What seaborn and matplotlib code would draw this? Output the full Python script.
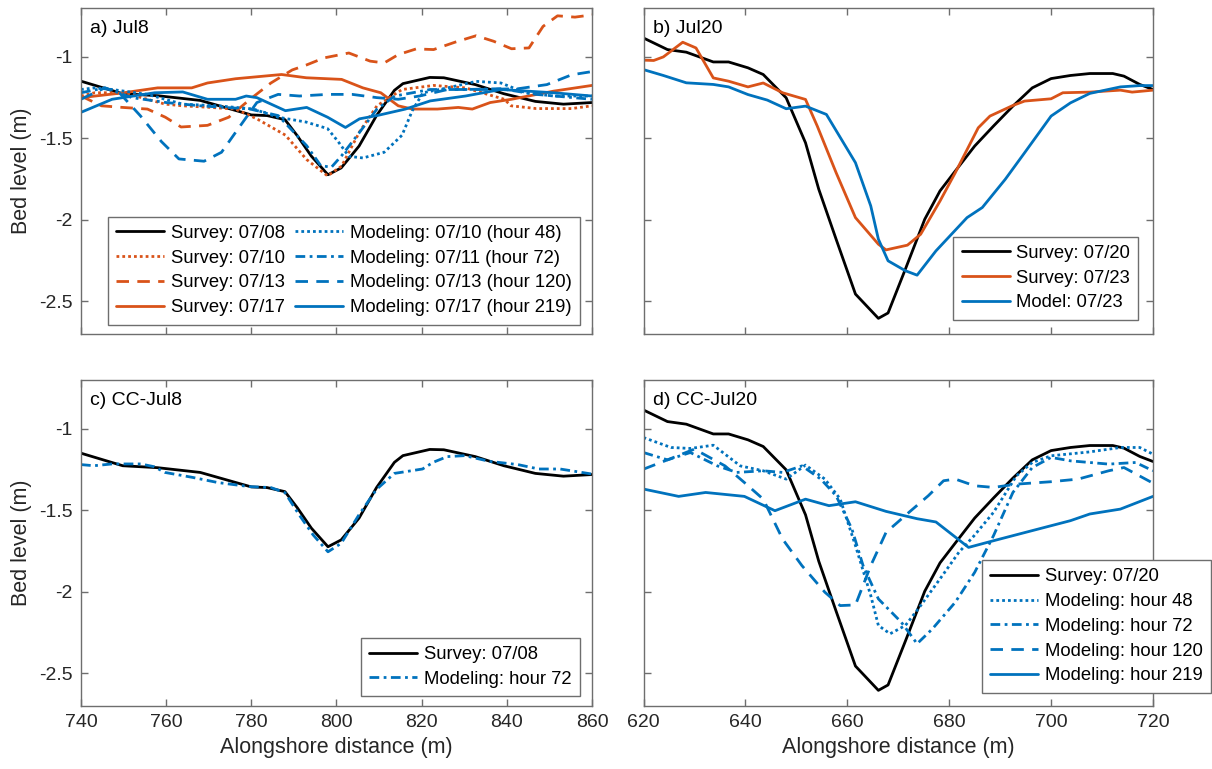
import numpy as np
import pandas as pd
import matplotlib
matplotlib.use("Agg")
import matplotlib.pyplot as plt
import seaborn as sns

# ---------------- data ----------------
# Panel a / c : Jul8 (x 740-860)
s0708_x = [740, 749.8, 758, 768, 773.8, 780, 783.7, 787.9, 790.8, 794.1, 798, 801.1, 805.3, 809.4, 813.6, 815.6, 821.9, 825.2, 832.6, 839.3, 846.7, 853.3, 860]
s0708_y = [-1.149, -1.226, -1.238, -1.267, -1.31, -1.356, -1.36, -1.385, -1.484, -1.609, -1.723, -1.681, -1.547, -1.36, -1.205, -1.164, -1.126, -1.128, -1.17, -1.226, -1.273, -1.29, -1.28]

s0710_x = [740, 743.2, 747, 751.5, 755.6, 759.8, 763.9, 770.5, 776.3, 781.3, 788, 793, 797.9, 801.2, 805.4, 809.5, 815.4, 822.8, 830.3, 839.4, 841, 846.9, 855.2, 860]
s0710_y = [-1.24, -1.22, -1.22, -1.23, -1.26, -1.29, -1.30, -1.31, -1.32, -1.38, -1.48, -1.63, -1.73, -1.67, -1.46, -1.30, -1.20, -1.175, -1.19, -1.26, -1.30, -1.317, -1.317, -1.30]

s0713_x = [740, 744.8, 749.8, 755.6, 759.8, 763.5, 769.7, 774.7, 779.7, 784.6, 789.6, 792.9, 797.1, 802.9, 807.9, 811.2, 814.5, 818.7, 822.8, 827.8, 832.8, 836.9, 841.1, 845.2, 848.5, 851.9, 856, 860]
s0713_y = [-1.24, -1.30, -1.31, -1.32, -1.37, -1.43, -1.42, -1.37, -1.26, -1.16, -1.08, -1.05, -1.006, -0.976, -1.026, -1.037, -0.986, -0.951, -0.955, -0.91, -0.87, -0.904, -0.95, -0.945, -0.813, -0.748, -0.756, -0.742]

s0717_x = [740, 750, 758, 766, 769.7, 776.3, 787.1, 792.9, 801.2, 806.2, 810.4, 814.5, 817.8, 823.7, 828.6, 831.9, 836.1, 841.1, 851, 860]
s0717_y = [-1.25, -1.22, -1.19, -1.19, -1.16, -1.134, -1.108, -1.128, -1.138, -1.19, -1.22, -1.30, -1.32, -1.32, -1.31, -1.32, -1.28, -1.26, -1.21, -1.175]

m48_x = [740, 743.2, 747.3, 755.6, 763.9, 772.2, 780.5, 786.3, 792.9, 797.9, 800.4, 802.9, 806.2, 811.2, 815.4, 817.8, 820.3, 826.1, 832.8, 838.6, 844.4, 851, 860]
m48_y = [-1.20, -1.19, -1.20, -1.23, -1.29, -1.30, -1.32, -1.37, -1.40, -1.44, -1.52, -1.61, -1.62, -1.585, -1.48, -1.33, -1.22, -1.19, -1.15, -1.16, -1.22, -1.24, -1.24]

m72_x = [740, 745.6, 752, 760, 768, 779.7, 786.3, 793, 796.3, 798.8, 801.2, 805.4, 809.5, 813.7, 822, 830.3, 838.6, 846.9, 860]
m72_y = [-1.22, -1.19, -1.25, -1.28, -1.30, -1.32, -1.36, -1.545, -1.667, -1.677, -1.606, -1.463, -1.32, -1.24, -1.20, -1.20, -1.195, -1.23, -1.26]

m120_x = [740, 745.6, 749, 753.9, 758.9, 763, 768.9, 773, 776.3, 781.3, 786.3, 791.3, 797.9, 803.7, 809.5, 814.5, 819.5, 826.1, 834.4, 842.7, 849.4, 855.2, 860]
m120_y = [-1.26, -1.19, -1.22, -1.36, -1.52, -1.626, -1.64, -1.585, -1.463, -1.28, -1.23, -1.24, -1.23, -1.23, -1.25, -1.26, -1.24, -1.20, -1.20, -1.195, -1.17, -1.11, -1.09]

m219_x = [740, 747.3, 757.3, 763.9, 769.7, 776.3, 778.8, 781.3, 788, 793, 797.9, 802.1, 805.4, 809.5, 816.2, 822, 830.3, 838.6, 851, 860]
m219_y = [-1.34, -1.26, -1.22, -1.215, -1.26, -1.26, -1.24, -1.25, -1.33, -1.31, -1.37, -1.433, -1.38, -1.36, -1.32, -1.27, -1.24, -1.20, -1.22, -1.24]

cc72_x = [740, 743, 747.3, 754, 757.2, 759.7, 766.3, 772.1, 779.5, 784.6, 787.9, 791.2, 794.5, 798, 801.1, 805.3, 809.4, 813.6, 820.2, 822.7, 826, 830.1, 835.9, 842.6, 847.5, 852.5, 860]
cc72_y = [-1.219, -1.226, -1.215, -1.215, -1.232, -1.267, -1.298, -1.329, -1.354, -1.36, -1.391, -1.526, -1.65, -1.754, -1.702, -1.526, -1.371, -1.273, -1.246, -1.205, -1.17, -1.164, -1.199, -1.219, -1.246, -1.246, -1.277]

# Panel b / d : Jul20 (x 620-720)
s0720_x = [620, 624.7, 628.4, 633.7, 636.7, 640.5, 643.5, 648, 651.8, 654.4, 657.8, 661.6, 666.1, 668, 671.4, 675.2, 678.2, 681.2, 685, 688.7, 692.5, 696.3, 700, 703.8, 707.6, 712.1, 714.3, 717.4, 720]
s0720_y = [-0.884, -0.955, -0.971, -1.031, -1.031, -1.067, -1.108, -1.251, -1.527, -1.812, -2.118, -2.455, -2.604, -2.571, -2.302, -1.996, -1.822, -1.70, -1.547, -1.424, -1.302, -1.19, -1.133, -1.114, -1.102, -1.102, -1.118, -1.169, -1.2]

s0723_x = [620, 622, 623.9, 627.7, 630.3, 633.7, 636.7, 640.5, 643.5, 647.3, 651.8, 654.1, 657.8, 661.6, 666.1, 667.6, 671.8, 674.4, 678.2, 681.2, 685.7, 688, 692.5, 694.8, 700, 702.3, 707.6, 713.6, 715.9, 720]
s0723_y = [-1.02, -1.022, -1.0, -0.91, -0.945, -1.129, -1.149, -1.184, -1.16, -1.22, -1.261, -1.424, -1.71, -1.986, -2.149, -2.184, -2.155, -2.088, -1.884, -1.71, -1.435, -1.363, -1.298, -1.271, -1.257, -1.22, -1.216, -1.204, -1.216, -1.204]

mod0723_x = [620, 623.9, 628.4, 633.7, 636.7, 640.5, 644.3, 648, 651.8, 655.9, 661.6, 664.6, 666.1, 668, 671.4, 673.7, 677.4, 683.5, 686.5, 691, 694.8, 700, 703.8, 707.6, 713.6, 717.4, 720]
mod0723_y = [-1.078, -1.114, -1.159, -1.169, -1.184, -1.231, -1.265, -1.318, -1.302, -1.353, -1.649, -1.914, -2.118, -2.251, -2.312, -2.339, -2.19, -1.986, -1.924, -1.751, -1.588, -1.363, -1.282, -1.224, -1.184, -1.176, -1.176]

d48_x = [620, 625.4, 629.2, 633.7, 639, 643.5, 648, 651.8, 655.6, 658.6, 661.6, 664.6, 666.1, 668.4, 671.4, 674.4, 678.2, 681.9, 684.9, 688.7, 693.2, 696.3, 700, 707.6, 713.6, 717.4, 720]
d48_y = [-1.053, -1.114, -1.12, -1.10, -1.227, -1.257, -1.308, -1.222, -1.308, -1.43, -1.716, -2.022, -2.206, -2.257, -2.206, -2.084, -1.92, -1.757, -1.655, -1.512, -1.288, -1.206, -1.165, -1.141, -1.114, -1.114, -1.155]

d72_x = [620, 624.7, 629.2, 634.5, 638.3, 643.5, 647.3, 651.1, 654.8, 657.8, 660.9, 663.1, 666.1, 670.6, 673.7, 676.7, 681.2, 685, 688.7, 692.5, 696.3, 700, 703.8, 711.3, 716.6, 720]
d72_y = [-1.145, -1.19, -1.145, -1.227, -1.267, -1.257, -1.267, -1.227, -1.308, -1.41, -1.614, -1.839, -2.043, -2.186, -2.318, -2.227, -2.063, -1.88, -1.655, -1.39, -1.237, -1.175, -1.196, -1.216, -1.206, -1.257]

d120_x = [620, 624.7, 630, 636, 639.8, 643.5, 647.3, 651.1, 655.6, 658.6, 661.6, 664.6, 667.6, 672.1, 675.9, 678.9, 681.2, 685, 688.7, 693.2, 700, 705.3, 711.3, 714.3, 720]
d120_y = [-1.247, -1.19, -1.124, -1.227, -1.329, -1.431, -1.676, -1.839, -2.002, -2.084, -2.08, -1.839, -1.635, -1.512, -1.41, -1.318, -1.308, -1.349, -1.359, -1.339, -1.324, -1.308, -1.257, -1.237, -1.333]

d219_x = [620, 626.9, 632.2, 639.8, 645.8, 651.8, 656.4, 661.6, 667.6, 673.7, 677.4, 683.8, 688.7, 696.3, 703.8, 707.6, 713.6, 720]
d219_y = [-1.369, -1.414, -1.39, -1.414, -1.502, -1.431, -1.471, -1.447, -1.506, -1.551, -1.571, -1.727, -1.686, -1.624, -1.563, -1.522, -1.492, -1.414]

xticks_left = [740, 760, 780, 800, 820, 840, 860]
xticks_right = [620, 640, 660, 680, 700, 720]
yticks = [-2.5, -2, -1.5, -1]
ytick_labels = ["-2.5", "-2", "-1.5", "-1"]

# ---------------- style ----------------
sns.set_theme(style="white")
plt.rcParams["font.family"] = ["Liberation Sans", "DejaVu Sans"]

BLACK = "#000000"
ORANGE = "#D95319"
BLUE = "#0072BD"
FRAME = "#6e6e6e"
LW = 2.0
DOT = (0, (1, 1.1))
DASH = (0, (4.5, 3))
DASHDOT = (0, (3.5, 1.6, 1, 1.6))
SOLID = "-"

fig = plt.figure(figsize=(12.12, 7.69), dpi=100)
W, H = 1212, 769
def axpos(l, t, r, b):
    return [l / W, 1 - b / H, (r - l) / W, (b - t) / H]

ax_a = fig.add_axes(axpos(81, 8, 592, 334))
ax_b = fig.add_axes(axpos(643.5, 8, 1153, 334))
ax_c = fig.add_axes(axpos(81, 380, 592, 706))
ax_d = fig.add_axes(axpos(643.5, 380, 1153, 706))

def draw(ax, x, y, color, ls, label):
    sns.lineplot(x=x, y=y, ax=ax, color=color, linestyle=ls, linewidth=LW,
                 label=label, sort=False, estimator=None)

# panel a
draw(ax_a, s0708_x, s0708_y, BLACK, SOLID, "Survey: 07/08")
draw(ax_a, s0710_x, s0710_y, ORANGE, DOT, "Survey: 07/10")
draw(ax_a, s0713_x, s0713_y, ORANGE, DASH, "Survey: 07/13")
draw(ax_a, s0717_x, s0717_y, ORANGE, SOLID, "Survey: 07/17")
draw(ax_a, m48_x, m48_y, BLUE, DOT, "Modeling: 07/10 (hour 48)")
draw(ax_a, m72_x, m72_y, BLUE, DASHDOT, "Modeling: 07/11 (hour 72)")
draw(ax_a, m120_x, m120_y, BLUE, DASH, "Modeling: 07/13 (hour 120)")
draw(ax_a, m219_x, m219_y, BLUE, SOLID, "Modeling: 07/17 (hour 219)")

# panel b
draw(ax_b, s0720_x, s0720_y, BLACK, SOLID, "Survey: 07/20")
draw(ax_b, s0723_x, s0723_y, ORANGE, SOLID, "Survey: 07/23")
draw(ax_b, mod0723_x, mod0723_y, BLUE, SOLID, "Model: 07/23")

# panel c
draw(ax_c, s0708_x, s0708_y, BLACK, SOLID, "Survey: 07/08")
draw(ax_c, cc72_x, cc72_y, BLUE, DASHDOT, "Modeling: hour 72")

# panel d
draw(ax_d, s0720_x, s0720_y, BLACK, SOLID, "Survey: 07/20")
draw(ax_d, d48_x, d48_y, BLUE, DOT, "Modeling: hour 48")
draw(ax_d, d72_x, d72_y, BLUE, DASHDOT, "Modeling: hour 72")
draw(ax_d, d120_x, d120_y, BLUE, DASH, "Modeling: hour 120")
draw(ax_d, d219_x, d219_y, BLUE, SOLID, "Modeling: hour 219")

TICKFS = 14
LABFS = 15.5
LEGFS = 13.3

for ax, xt, xl, tag in [(ax_a, xticks_left, (740, 860), "a) Jul8"),
                        (ax_b, xticks_right, (620, 720), "b) Jul20"),
                        (ax_c, xticks_left, (740, 860), "c) CC-Jul8"),
                        (ax_d, xticks_right, (620, 720), "d) CC-Jul20")]:
    ax.set_xlim(*xl)
    ax.set_ylim(-2.7, -0.7)
    ax.set_xticks(xt)
    ax.set_yticks(yticks)
    ax.tick_params(direction="in", length=5, width=1, color=FRAME,
                   top=True, right=True, bottom=True, left=True,
                   labelsize=TICKFS, labelcolor="#262626", pad=6)
    for sp in ax.spines.values():
        sp.set_color(FRAME)
        sp.set_linewidth(1.0)
    ax.set_xlabel("")
    ax.set_ylabel("")
    ax.text(0.018, 0.962, tag, transform=ax.transAxes, ha="left", va="top",
            fontsize=TICKFS, color="#000000")

ax_a.set_yticklabels(ytick_labels)
ax_c.set_yticklabels(ytick_labels)
ax_b.set_yticklabels([])
ax_d.set_yticklabels([])
ax_a.set_xticklabels([])
ax_b.set_xticklabels([])
ax_c.set_xticklabels([str(v) for v in xticks_left])
ax_d.set_xticklabels([str(v) for v in xticks_right])

ax_a.set_ylabel("Bed level (m)", fontsize=LABFS, color="#262626", labelpad=5)
ax_c.set_ylabel("Bed level (m)", fontsize=LABFS, color="#262626", labelpad=5)
ax_c.set_xlabel("Alongshore distance (m)", fontsize=LABFS, color="#262626", labelpad=4)
ax_d.set_xlabel("Alongshore distance (m)", fontsize=LABFS, color="#262626", labelpad=4)

leg_kw = dict(fontsize=LEGFS, frameon=True, fancybox=False, framealpha=1,
              edgecolor=FRAME, handlelength=2.6, handletextpad=0.35,
              labelspacing=0.42, borderpad=0.45, borderaxespad=0)

def style_leg(leg):
    leg.get_frame().set_linewidth(1.0)
    for t in leg.get_texts():
        t.set_color("#000000")

style_leg(ax_a.legend(loc="upper left", bbox_to_anchor=(0.053, 0.36), ncol=2,
                      columnspacing=0.55, **leg_kw))
style_leg(ax_b.legend(loc="lower right", bbox_to_anchor=(0.9715, 0.044), **leg_kw))
style_leg(ax_c.legend(loc="upper left", bbox_to_anchor=(0.548, 0.209), **leg_kw))
style_leg(ax_d.legend(loc="upper left", bbox_to_anchor=(0.664, 0.448), **leg_kw))

fig.savefig("out.png", dpi=100)
